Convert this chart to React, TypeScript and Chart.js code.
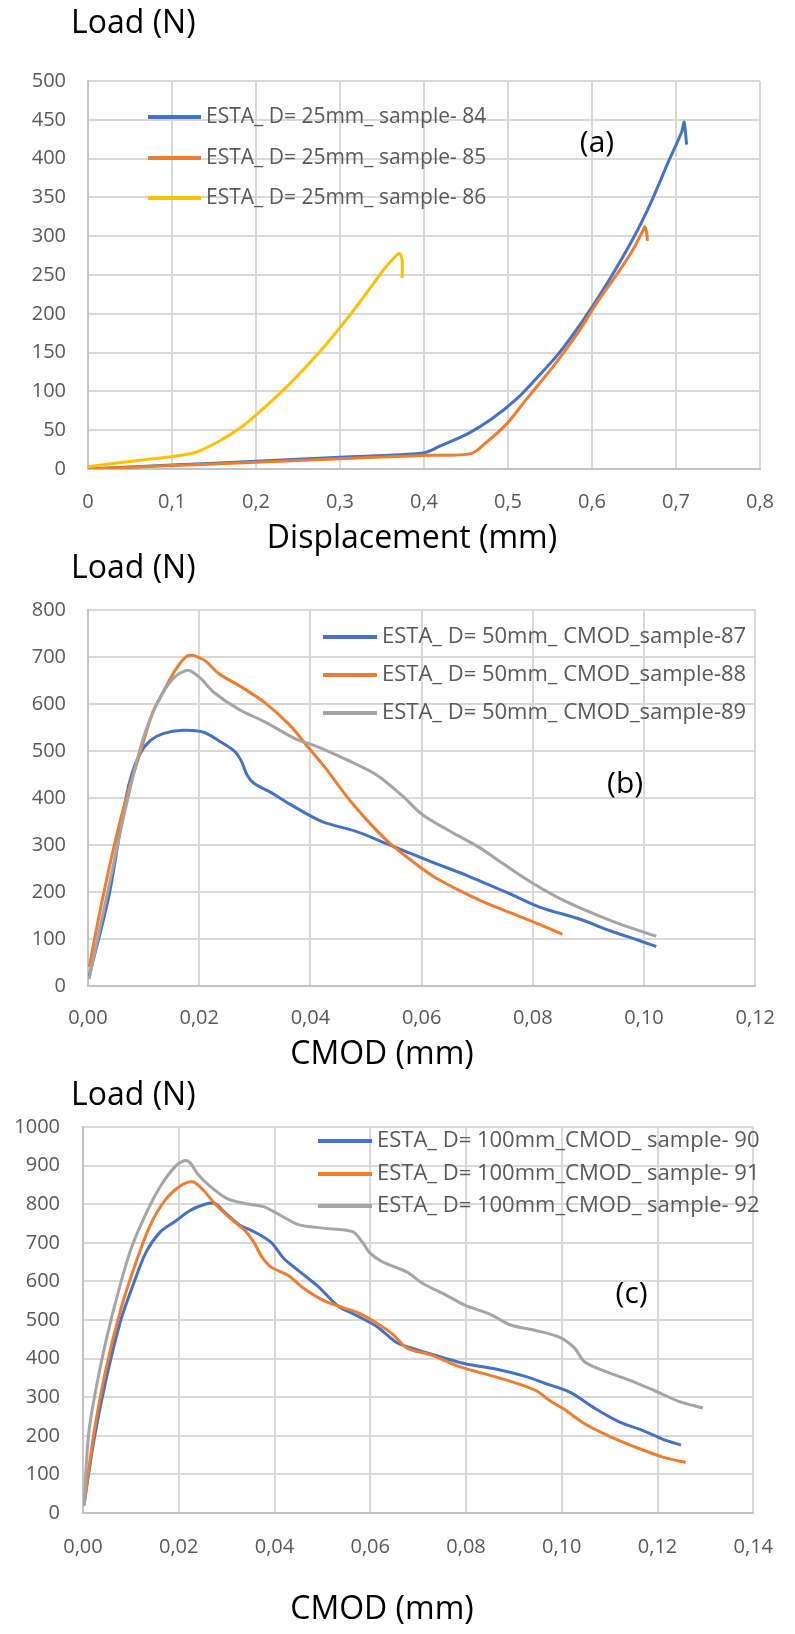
import React, { useEffect, useRef } from 'react';
import { Chart, registerables } from 'chart.js';

Chart.register(...registerables);

const FONT = '"Open Sans", "Noto Sans", sans-serif';
const TICK_COLOR = '#595959';
const GRID_COLOR = '#d9d9d9';
const BORDER_COLOR = '#c4c4c4';
const BLUE = '#4472C4';
const ORANGE = '#ED7D31';
const YELLOW = '#FFC000';
const GRAY = '#A5A5A5';

// ---------- Panel (a): Load vs Displacement, D = 25 mm ----------
const dispTicks = [0, 0.1, 0.2, 0.3, 0.4, 0.5, 0.6, 0.7, 0.8];
const loadTicksA = [0, 50, 100, 150, 200, 250, 300, 350, 400, 450, 500];

const a84X = [0, 0.1, 0.2, 0.3, 0.399, 0.42, 0.453, 0.48, 0.51, 0.534, 0.559, 0.589, 0.619, 0.649, 0.67, 0.691, 0.707, 0.7095, 0.711, 0.7126];
const a84Y = [0, 5, 10, 15.3, 20.5, 30, 46, 64, 90, 117, 147, 191, 241, 297, 343, 396, 435, 447, 437, 418];

const a85X = [0, 0.1, 0.2, 0.3, 0.4, 0.456, 0.475, 0.498, 0.522, 0.553, 0.583, 0.607, 0.631, 0.649, 0.661, 0.663, 0.665, 0.666];
const a85Y = [0, 4.4, 8.8, 13.2, 17.5, 19.8, 35, 57.5, 90, 131, 175, 216, 253, 283, 308, 312, 305, 294];

const a86X = [0, 0.06, 0.1256, 0.154, 0.184, 0.214, 0.245, 0.275, 0.305, 0.329, 0.353, 0.368, 0.371, 0.374, 0.374];
const a86Y = [3, 11, 20.7, 34.5, 55, 83, 115, 150, 189, 223, 258, 276, 278, 269, 246];

// ---------- Panel (b): Load vs CMOD, D = 50 mm ----------
const cmodTicksB = [0, 0.02, 0.04, 0.06, 0.08, 0.1, 0.12];
const loadTicksB = [0, 100, 200, 300, 400, 500, 600, 700, 800];

const b87X = [0.0002, 0.0038, 0.0061, 0.0075, 0.0093, 0.0112, 0.0135, 0.0171, 0.0208, 0.0235, 0.0263, 0.0276, 0.0286, 0.0299, 0.0327, 0.0363, 0.04, 0.0427, 0.0482, 0.0537, 0.0574, 0.062, 0.0684, 0.0757, 0.0812, 0.0885, 0.094, 0.0986, 0.1022];
const b87Y = [20, 194, 354, 435, 493, 522, 537, 544, 540, 522, 500, 478, 449, 431, 413, 387, 362, 347, 329, 303, 285, 263, 234, 197, 168, 142, 117, 99, 84];

const b88X = [0.0002, 0.0025, 0.0048, 0.007, 0.0093, 0.0116, 0.0135, 0.0157, 0.018, 0.0208, 0.0235, 0.0272, 0.0318, 0.0363, 0.0391, 0.0427, 0.0464, 0.0501, 0.0537, 0.0574, 0.062, 0.0665, 0.0711, 0.0757, 0.0812, 0.0853];
const b88Y = [40, 179, 303, 405, 493, 581, 625, 672, 703, 694, 665, 639, 603, 555, 515, 464, 405, 354, 310, 274, 234, 205, 179, 157, 131, 110];

const b89X = [0.0002, 0.0038, 0.007, 0.0098, 0.0125, 0.0153, 0.018, 0.0203, 0.0226, 0.0272, 0.0318, 0.0373, 0.0409, 0.0464, 0.0519, 0.0565, 0.0601, 0.0647, 0.0702, 0.0748, 0.0794, 0.0849, 0.0903, 0.0958, 0.1022];
const b89Y = [15, 215, 391, 522, 603, 654, 672, 654, 625, 588, 562, 526, 511, 482, 449, 405, 365, 332, 296, 259, 223, 186, 157, 131, 106];

// ---------- Panel (c): Load vs CMOD, D = 100 mm ----------
const cmodTicksC = [0, 0.02, 0.04, 0.06, 0.08, 0.1, 0.12, 0.14];
const loadTicksC = [0, 100, 200, 300, 400, 500, 600, 700, 800, 900, 1000];

const c90X = [0.0002, 0.0023, 0.0048, 0.0079, 0.0105, 0.0131, 0.0162, 0.0193, 0.0224, 0.0255, 0.0275, 0.0296, 0.0326, 0.0357, 0.0393, 0.0419, 0.045, 0.0491, 0.0532, 0.0574, 0.0615, 0.0656, 0.0697, 0.0759, 0.08, 0.0862, 0.0924, 0.0965, 0.1017, 0.1068, 0.112, 0.1171, 0.1213, 0.1249];
const c90Y = [20, 190, 345, 500, 592, 674, 729, 756, 784, 800, 802, 779, 747, 729, 701, 660, 628, 587, 537, 510, 482, 441, 423, 400, 386, 373, 354, 336, 313, 272, 236, 213, 190, 176];

const c91X = [0.0002, 0.0023, 0.0048, 0.0079, 0.011, 0.0141, 0.0172, 0.0203, 0.0229, 0.025, 0.0275, 0.0306, 0.0337, 0.0357, 0.0373, 0.0393, 0.0429, 0.046, 0.0502, 0.0543, 0.0574, 0.0615, 0.0646, 0.0677, 0.0728, 0.078, 0.0831, 0.0883, 0.0945, 0.0976, 0.1006, 0.1048, 0.1099, 0.1151, 0.1213, 0.1259];
const c91Y = [20, 208, 373, 528, 647, 747, 811, 847, 858, 838, 802, 765, 733, 701, 665, 637, 615, 583, 551, 532, 519, 491, 464, 427, 409, 382, 363, 345, 318, 290, 268, 231, 199, 172, 144, 131];

const c92X = [0.0002, 0.0012, 0.0028, 0.0048, 0.0074, 0.01, 0.0131, 0.0162, 0.0193, 0.0213, 0.0224, 0.0239, 0.0265, 0.03, 0.0337, 0.0378, 0.0414, 0.045, 0.0502, 0.0563, 0.0584, 0.0599, 0.0625, 0.0677, 0.0708, 0.0759, 0.08, 0.0852, 0.0893, 0.0945, 0.0996, 0.1027, 0.1048, 0.1099, 0.114, 0.1192, 0.1243, 0.1295];
const c92Y = [20, 208, 327, 446, 574, 683, 774, 847, 898, 913, 907, 879, 847, 815, 802, 793, 770, 747, 738, 729, 701, 674, 651, 624, 596, 564, 537, 514, 487, 473, 455, 427, 391, 363, 345, 318, 290, 272];

type Series = { label: string; xs: number[]; ys: number[]; color: string };

interface PanelCfg {
  series: Series[];
  xTicks: number[];
  yTicks: number[];
  xDecimals: number;
  top: number;
  height: number;
  padTop: number;
  padRight: number;
  yAxisWidth: number;
  xAxisHeight: number;
  yTickPad: number;
  xTickPad: number;
  yUnit: { text: string; x: number; y: number };
  xTitle: { text: string; x: number; y: number };
  letter: { text: string; xv: number; yv: number };
  legend: { x0: number; x1: number; tx: number; ys: number[]; size: number };
}

const panels: PanelCfg[] = [
  {
    series: [
      { label: 'ESTA_ D= 25mm_ sample- 84', xs: a84X, ys: a84Y, color: BLUE },
      { label: 'ESTA_ D= 25mm_ sample- 85', xs: a85X, ys: a85Y, color: ORANGE },
      { label: 'ESTA_ D= 25mm_ sample- 86', xs: a86X, ys: a86Y, color: YELLOW },
    ],
    xTicks: dispTicks,
    yTicks: loadTicksA,
    xDecimals: 1,
    top: 0,
    height: 560,
    padTop: 81,
    padRight: 34,
    yAxisWidth: 88,
    xAxisHeight: 91,
    yTickPad: 22,
    xTickPad: 21,
    yUnit: { text: 'Load (N)', x: 71, y: 33 },
    xTitle: { text: 'Displacement (mm)', x: 412, y: 548 },
    letter: { text: '(a)', xv: 0.606, yv: 419 },
    legend: { x0: 148, x1: 201, tx: 206, ys: [117, 158, 198], size: 21 },
  },
  {
    series: [
      { label: 'ESTA_ D= 50mm_ CMOD_sample-87', xs: b87X, ys: b87Y, color: BLUE },
      { label: 'ESTA_ D= 50mm_ CMOD_sample-88', xs: b88X, ys: b88Y, color: ORANGE },
      { label: 'ESTA_ D= 50mm_ CMOD_sample-89', xs: b89X, ys: b89Y, color: GRAY },
    ],
    xTicks: cmodTicksB,
    yTicks: loadTicksB,
    xDecimals: 2,
    top: 540,
    height: 550,
    padTop: 70,
    padRight: 39,
    yAxisWidth: 88,
    xAxisHeight: 104,
    yTickPad: 22,
    xTickPad: 20,
    yUnit: { text: 'Load (N)', x: 71, y: 38 },
    xTitle: { text: 'CMOD (mm)', x: 382, y: 524 },
    letter: { text: '(b)', xv: 0.0966, yv: 428 },
    legend: { x0: 323, x1: 377, tx: 382, ys: [97, 135, 173], size: 22 },
  },
  {
    series: [
      { label: 'ESTA_ D= 100mm_CMOD_ sample- 90', xs: c90X, ys: c90Y, color: BLUE },
      { label: 'ESTA_ D= 100mm_CMOD_ sample- 91', xs: c91X, ys: c91Y, color: ORANGE },
      { label: 'ESTA_ D= 100mm_CMOD_ sample- 92', xs: c92X, ys: c92Y, color: GRAY },
    ],
    xTicks: cmodTicksC,
    yTicks: loadTicksC,
    xDecimals: 2,
    top: 1060,
    height: 574,
    padTop: 67,
    padRight: 22,
    yAxisWidth: 83,
    xAxisHeight: 121,
    yTickPad: 23,
    xTickPad: 22,
    yUnit: { text: 'Load (N)', x: 71, y: 45 },
    xTitle: { text: 'CMOD (mm)', x: 382, y: 559 },
    letter: { text: '(c)', xv: 0.1146, yv: 567 },
    legend: { x0: 318, x1: 372, tx: 377, ys: [81, 114, 146], size: 22 },
  },
];

function fmt(v: number, decimals: number): string {
  if (decimals === 1 && Math.abs(v) < 1e-9) return '0';
  return v.toFixed(decimals).replace('.', ',');
}

function decorPlugin(cfg: PanelCfg) {
  return {
    id: 'decor',
    afterDraw(chart: any) {
      const ctx = chart.ctx as CanvasRenderingContext2D;
      const xs = chart.scales.x;
      const ys = chart.scales.y;
      ctx.save();
      ctx.fillStyle = '#000';
      ctx.font = `32px ${FONT}`;
      ctx.textBaseline = 'alphabetic';
      ctx.textAlign = 'left';
      ctx.fillText(cfg.yUnit.text, cfg.yUnit.x, cfg.yUnit.y);
      ctx.textAlign = 'center';
      ctx.fillText(cfg.xTitle.text, cfg.xTitle.x, cfg.xTitle.y);
      ctx.font = `30px ${FONT}`;
      ctx.textBaseline = 'middle';
      ctx.fillText(cfg.letter.text, xs.getPixelForValue(cfg.letter.xv), ys.getPixelForValue(cfg.letter.yv));
      ctx.font = `${cfg.legend.size}px ${FONT}`;
      ctx.textAlign = 'left';
      chart.data.datasets.forEach((ds: any, i: number) => {
        const y = cfg.legend.ys[i];
        ctx.strokeStyle = ds.borderColor;
        ctx.lineWidth = 4;
        ctx.lineCap = 'butt';
        ctx.beginPath();
        ctx.moveTo(cfg.legend.x0, y);
        ctx.lineTo(cfg.legend.x1, y);
        ctx.stroke();
        ctx.fillStyle = TICK_COLOR;
        ctx.fillText(ds.label, cfg.legend.tx, y);
      });
      ctx.restore();
    },
  };
}

function buildConfig(cfg: PanelCfg): any {
  const n = cfg.series.length;
  return {
    type: 'line',
    data: {
      datasets: cfg.series.map((s, i) => ({
        label: s.label,
        data: s.xs.map((x, k) => ({ x, y: s.ys[k] })),
        borderColor: s.color,
        backgroundColor: s.color,
        borderWidth: 3,
        pointRadius: 0,
        tension: 0.3,
        fill: false,
        order: n - i,
      })),
    },
    options: {
      responsive: false,
      animation: false,
      devicePixelRatio: 1,
      parsing: false,
      layout: { padding: { top: cfg.padTop, right: cfg.padRight, left: 0, bottom: 0 } },
      plugins: {
        legend: { display: false },
        tooltip: { enabled: false },
        title: { display: false },
      },
      scales: {
        x: {
          type: 'linear',
          min: cfg.xTicks[0],
          max: cfg.xTicks[cfg.xTicks.length - 1],
          afterBuildTicks: (scale: any) => {
            scale.ticks = cfg.xTicks.map((v) => ({ value: v }));
          },
          afterFit: (scale: any) => {
            scale.height = cfg.xAxisHeight;
          },
          ticks: {
            padding: cfg.xTickPad,
            color: TICK_COLOR,
            font: { family: FONT, size: 20 },
            maxRotation: 0,
            autoSkip: false,
            callback: (v: number) => fmt(v, cfg.xDecimals),
          },
          grid: { color: GRID_COLOR, lineWidth: 2, drawTicks: false },
          border: { color: BORDER_COLOR, width: 2 },
        },
        y: {
          type: 'linear',
          min: cfg.yTicks[0],
          max: cfg.yTicks[cfg.yTicks.length - 1],
          afterBuildTicks: (scale: any) => {
            scale.ticks = cfg.yTicks.map((v) => ({ value: v }));
          },
          afterFit: (scale: any) => {
            scale.width = cfg.yAxisWidth;
          },
          ticks: {
            padding: cfg.yTickPad,
            color: TICK_COLOR,
            font: { family: FONT, size: 20 },
            autoSkip: false,
            callback: (v: number) => String(v),
          },
          grid: { color: GRID_COLOR, lineWidth: 2, drawTicks: false },
          border: { color: BORDER_COLOR, width: 2 },
        },
      },
    },
    plugins: [decorPlugin(cfg)],
  };
}

function Panel({ cfg }: { cfg: PanelCfg }) {
  const ref = useRef<HTMLCanvasElement>(null);
  useEffect(() => {
    if (!ref.current) return;
    const chart = new Chart(ref.current, buildConfig(cfg));
    return () => chart.destroy();
  }, [cfg]);
  return (
    <canvas
      ref={ref}
      width={795}
      height={cfg.height}
      style={{ position: 'absolute', left: 0, top: cfg.top, width: 795, height: cfg.height }}
    />
  );
}

export default function App() {
  useEffect(() => {
    document.body.style.margin = '0';
    document.body.style.overflow = 'hidden';
    document.body.style.background = '#ffffff';
  }, []);
  return (
    <div style={{ position: 'relative', width: 795, height: 1634, overflow: 'hidden', background: '#fff' }}>
      {panels.map((p, i) => (
        <Panel key={i} cfg={p} />
      ))}
    </div>
  );
}
